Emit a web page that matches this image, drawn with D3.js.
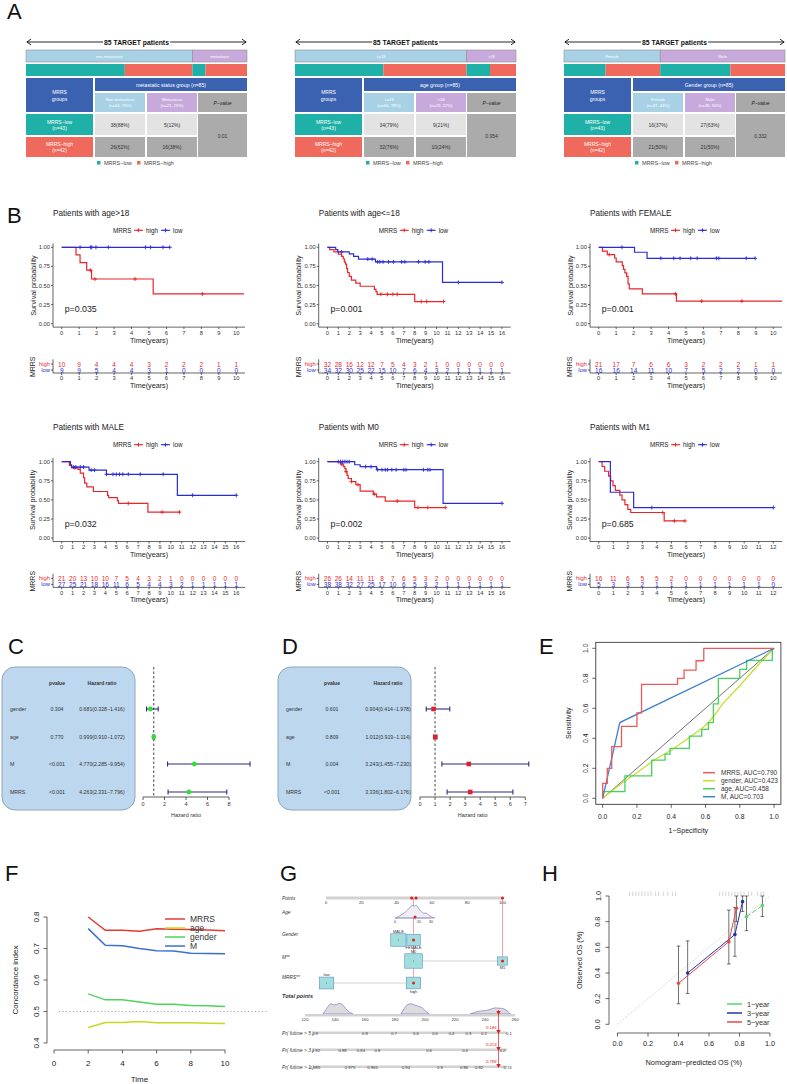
<!DOCTYPE html>
<html><head><meta charset="utf-8">
<script src="https://cdn.jsdelivr.net/npm/d3@7/dist/d3.min.js"></script>
<style>
body{margin:0;background:#fff;}
svg text{font-family:"Liberation Sans",Arial,Helvetica,sans-serif;}
</style></head><body>
<svg id="fig" width="787" height="1084"></svg>
<script>
// ================= data =================
// A: tables
var tabTitles = ["metastatic status group (n=85)", "age group (n=85)", "Gender group (n=85)"];
var tabBarLabels = [["non-metastasis","metastasis"], ["<=18",">18"], ["Female","Male"]];
var tabColHeads = [["Non-metastasis","Metastasis"], ["<=18",">18"], ["Female","Male"]];
var tabLow = [[38,5],[34,9],[16,27]];
var tabHigh = [[26,16],[32,10],[21,21]];
var tabP = ["0.01","0.954","0.332"];

// B: Kaplan-Meier panels
var kmTitles = ["Patients with age>18","Patients with age<=18","Patients with FEMALE","Patients with MALE","Patients with M0","Patients with M1"];
var kmP = ["p=0.035","p=0.001","p=0.001","p=0.032","p=0.002","p=0.685"];
var kmMax = [10,16,10,16,16,12];
// steps: [time, survival after drop]
var km1High = [[0.82,0.9],[1.05,0.8],[1.43,0.7],[1.71,0.585],[5.24,0.39]];
var km1HighC = [1.64,1.9,4.2,8.06];
var km1Low = [];
var km1LowC = [1.05,1.66,1.72,1.96,2.67,4.8,5.09,5.8,6.19];
var km2High = [[0.2,0.97],[0.6,0.94],[1.0,0.91],[1.3,0.88],[1.45,0.85],[1.55,0.81],[1.65,0.78],[1.75,0.72],[1.85,0.67],[2.0,0.62],[2.2,0.57],[2.6,0.53],[3.0,0.49],[4.3,0.45],[4.45,0.42],[4.55,0.385],[8.0,0.29]];
var km2HighC = [4.9,5.5,6.0,6.4,8.6,9.1,10.65];
var km2Low = [[0.76,0.97],[0.95,0.94],[2.0,0.915],[2.4,0.88],[2.85,0.845],[4.4,0.81],[10.55,0.54]];
var km2LowC = [1.3,3.7,4.1,4.6,4.8,5.1,5.6,6.05,6.8,7.1,8.35,8.96,9.3,12.0,16.0];
var km3High = [[0.21,0.95],[0.49,0.905],[0.91,0.86],[1.0,0.81],[1.35,0.76],[1.42,0.71],[1.5,0.665],[1.6,0.62],[1.68,0.52],[1.75,0.455],[2.5,0.39],[4.45,0.295]];
var km3HighC = [0.6,4.4,5.9,8.2];
var km3Low = [[2.05,0.935],[2.77,0.856]];
var km3LowC = [1.33,3.56,4.3,4.66,5.27,5.64,6.74,6.88,8.45,8.96];
var km4High = [[0.7,0.95],[0.9,0.92],[1.5,0.9],[1.7,0.85],[2.0,0.79],[2.1,0.72],[2.3,0.67],[2.9,0.61],[4.2,0.56],[4.3,0.53],[5.1,0.49],[5.2,0.455],[7.9,0.34]];
var km4HighC = [1.2,6.1,9.2,10.8];
var km4Low = [[0.8,0.96],[0.9,0.93],[2.5,0.89],[4.1,0.835],[10.6,0.56]];
var km4LowC = [1.1,1.3,1.7,2.0,2.7,3.0,4.1,4.7,5.0,5.3,5.6,6.1,7.2,9.3,12.0,16.0];
var km5High = [[1.2,0.97],[1.45,0.94],[1.6,0.91],[1.7,0.87],[1.8,0.82],[1.9,0.78],[2.2,0.74],[2.6,0.70],[3.0,0.615],[4.2,0.575],[4.5,0.54],[5.3,0.485],[8.0,0.40]];
var km5HighC = [1.3,1.7,2.2,2.8,4.3,6.4,8.3,9.2,10.8];
var km5Low = [[2.5,0.96],[3.0,0.935],[4.5,0.895],[10.6,0.455]];
var km5LowC = [1.0,1.2,1.4,1.6,1.8,2.0,3.5,4.0,4.6,5.0,5.3,5.5,5.9,6.3,7.0,7.2,8.8,9.2,9.4,16.0];
var km6High = [[0.23,0.9375],[0.41,0.875],[0.68,0.8125],[0.82,0.75],[0.98,0.6875],[1.14,0.625],[1.45,0.5625],[1.6,0.5],[1.8,0.4375],[2.0,0.375],[2.2,0.335],[4.5,0.225]];
var km6HighC = [4.4,5.2,5.93];
var km6Low = [[0.8,0.6],[2.4,0.4]];
var km6LowC = [3.65,12.0];
var kmHighEnd = [10.45,10.65,10.5,10.8,10.8,5.93];
var kmLowEnd = [6.19,16.0,8.96,16.0,16.0,12.0];
var risk1High = [10,9,4,4,4,3,2,2,2,1,1];
var risk1Low  = [9,9,5,4,4,3,1,0,0,0,0];
var risk2High = [32,28,16,12,12,7,5,4,3,2,1,0,0,0,0,0,0];
var risk2Low  = [34,32,30,25,22,15,10,7,6,4,3,2,1,1,1,1,1];
var risk3High = [21,17,7,6,6,3,2,2,2,1,1];
var risk3Low  = [16,16,14,11,10,7,5,2,2,0,0];
var risk4High = [21,20,13,10,10,7,5,4,3,2,1,0,0,0,0,0,0];
var risk4Low  = [27,25,21,18,16,11,6,5,4,4,3,2,1,1,1,1,1];
var risk5High = [26,26,14,11,11,8,7,6,5,3,2,0,0,0,0,0,0];
var risk5Low  = [38,38,32,27,25,17,10,6,5,3,2,1,1,1,1,1,1];
var risk6High = [16,11,6,5,5,2,0,0,0,0,0,0,0];
var risk6Low  = [5,3,3,2,1,1,1,1,1,1,1,1,0];

// C / D: Cox regression
var coxVars = ["gender","age","M","MRRS"];
var uniP = ["0.304","0.770","<0.001","<0.001"];
var uniHR = [0.681,0.999,4.770,4.263];
var uniLo = [0.328,0.910,2.285,2.331];
var uniHi = [1.416,1.072,9.954,7.796];
var multiP = ["0.601","0.809","0.004","<0.001"];
var multiHR = [0.904,1.012,3.243,3.336];
var multiLo = [0.414,0.919,1.455,1.802];
var multiHi = [1.978,1.114,7.230,6.176];

// E: ROC
var rocMRRS = [[0,0],[0,0.1],[0.027,0.1],[0.027,0.2],[0.053,0.2],[0.053,0.345],[0.11,0.345],[0.11,0.48],[0.2,0.48],[0.2,0.57],[0.227,0.57],[0.227,0.76],[0.437,0.76],[0.437,0.80],[0.475,0.80],[0.475,0.855],[0.545,0.855],[0.545,0.917],[0.59,0.917],[0.59,1],[1,1]];
var rocGender = [[0,0],[0.1,0.09],[0.2,0.17],[0.3,0.255],[0.4,0.32],[0.5,0.4],[0.6,0.485],[0.65,0.55],[0.7,0.63],[0.8,0.75],[0.9,0.88],[1,1]];
var rocAge = [[0,0],[0,0.045],[0.13,0.045],[0.13,0.15],[0.286,0.15],[0.286,0.255],[0.364,0.255],[0.364,0.295],[0.393,0.295],[0.393,0.333],[0.506,0.333],[0.506,0.415],[0.578,0.415],[0.578,0.46],[0.617,0.46],[0.617,0.505],[0.646,0.505],[0.646,0.63],[0.675,0.63],[0.675,0.80],[0.80,0.80],[0.80,0.86],[0.84,0.86],[0.84,0.92],[0.99,0.92],[0.99,0.99],[1,1]];
var rocM = [[0,0],[0.1,0.505],[1,1]];
var rocNames = ["MRRS, AUC=0.790","gender, AUC=0.423","age, AUC=0.458","M, AUC=0.703"];

// F: concordance index
var cTimes = [2,3,4,5,6,7,8,9,10];
var cMRRS = [0.800,0.758,0.758,0.755,0.763,0.761,0.760,0.759,0.756];
var cAge = [0.449,0.465,0.465,0.468,0.464,0.464,0.464,0.463,0.462];
var cGender = [0.556,0.537,0.537,0.530,0.523,0.523,0.519,0.518,0.516];
var cM = [0.763,0.710,0.709,0.700,0.693,0.692,0.685,0.684,0.683];
var cNames = ["MRRS","age","gender","M"];

// G: nomogram
var nomoLabels = ["Points","Age","Gender","M**","MRRS**","Total points","Pr( futime > 5 )","Pr( futime > 3 )","Pr( futime > 1 )"];
var pointTicks = [0,20,40,60,80,100];
var ageTicks = [0,20,30];
var ageDensAge = [0,3,6,9,12,14,16,18,20,22,24,26,28,30,33];
var ageDensVal = [0,0.1,0.25,0.45,0.7,0.95,0.8,1.0,0.6,0.45,0.3,0.4,0.2,0.1,0];
var genderLevels = ["MALE","FEMALE"], genderPts = [41,49.6], genderN = [48,37];
var mLevels = ["M0","M1"], mPts = [49.6,100], mN = [64,21];
var mrrsLevels = ["low","high"], mrrsPts = [0.3,49.6], mrrsN = [43,42];
var totalTicks = [120,140,160,180,200,220,240,260];
var totDensPts = [132,134,136,137,139,141,143,145,147,149,152, 184,186,188,190,192,194,196,198,200,203, 230,234,238,241,244,247,249,251,254,257];
var totDensVal = [0,0.4,0.8,1.0,0.8,0.85,1.0,0.9,0.5,0.2,0, 0,0.5,0.85,0.95,0.9,0.75,0.7,0.6,0.3,0, 0,0.2,0.3,0.3,0.45,0.6,0.5,0.55,0.4,0];
var pr5Lab = ["0.9","0.8","0.7","0.6","0.5","0.4","0.3","0.2","0.1"];
var pr5Pts = [126.7,160,179.3,194,206.7,217.7,229,239.3,256];
var pr3Lab = ["0.92","0.88","0.84","0.8","0.6","0.4","0.2"];
var pr3Pts = [127.3,145,157.3,168.3,202.7,226.7,251.7];
var pr1Lab = ["0.985","0.975","0.965","0.94","0.9","0.86","0.82","0.74"];
var pr1Pts = [126.7,150,165,187.3,210,226,236,255];
var obsTotal = 249;
var obsPr = ["0.145","0.213","0.788"];

// H: calibration
var cal1Pred = [0.846,0.95], cal1Obs = [0.839,0.925], cal1Lo = [0.73,0.84], cal1Hi = [1.0,1.0];
var cal3Pred = [0.46,0.77,0.82], cal3Obs = [0.40,0.70,0.956], cal3Lo = [0.24,0.53,0.88], cal3Hi = [0.65,0.91,1.0];
var cal5Pred = [0.40,0.73,0.78], cal5Obs = [0.32,0.644,0.904], cal5Lo = [0.16,0.47,0.80], cal5Hi = [0.61,0.89,1.0];
var calRug = [0.08,0.1,0.12,0.14,0.16,0.18,0.2,0.22,0.25,0.27,0.3,0.33,0.36,0.38,0.67,0.69,0.71,0.73,0.75,0.77,0.79,0.81,0.83,0.86,0.88,0.92,0.94,0.96];
var calNames = ["1\u2212year","3\u2212year","5\u2212year"];

// ================= helpers =================
var svg = d3.select("#fig");
var RED = "#e8262a", BLUE = "#2b2bd6";
var TEAL = "#1fb0a8", SALMON = "#ef6a5d", DBLUE = "#3a62b0", LBLUE = "#a9d1e6", LAV = "#c8a9dc";

function T(g, x, y, s, size, o) {
  o = o || {};
  var t = g.append("text").attr("x", x).attr("y", y).attr("font-size", size)
    .attr("dominant-baseline", "central")
    .attr("text-anchor", o.anchor || "start")
    .attr("fill", o.fill || "#222").text(s);
  if (o.weight) t.attr("font-weight", o.weight);
  if (o.style) t.attr("font-style", o.style);
  if (o.rotate) t.attr("transform", "rotate(" + o.rotate + "," + x + "," + y + ")");
  return t;
}
function L(g, x1, y1, x2, y2, c, w, dash) {
  var l = g.append("line").attr("x1", x1).attr("y1", y1).attr("x2", x2).attr("y2", y2)
    .attr("stroke", c || "#000").attr("stroke-width", w || 0.8);
  if (dash) l.attr("stroke-dasharray", dash);
  return l;
}

// panel letters
[["A",7,11],["B",7,215],["C",8,646],["D",282,646],["E",539,646],["F",5,873],["G",280,873],["H",542,873]]
  .forEach(function (p) { T(svg, p[1], p[2], p[0], 22, {fill: "#111"}); });

// ================= A =================
function drawTable(i, x0) {
  var W = 221;
  var g = svg.append("g").attr("transform", "translate(" + x0 + ",0)");
  var lo = tabLow[i], hi = tabHigh[i];
  var grp = [lo[0] + hi[0], lo[1] + hi[1]];
  var n = grp[0] + grp[1], nLo = d3.sum(lo), nHi = d3.sum(hi);
  var xb = d3.scaleLinear().domain([0, n]).range([0, W]);

  L(g, 1, 42, W - 1, 42, "#111", 0.9);
  g.append("path").attr("d", "M5,39.2L0.8,42L5,44.8").attr("fill", "none").attr("stroke", "#111").attr("stroke-width", 0.9);
  g.append("path").attr("d", "M" + (W - 5) + ",39.2L" + (W - 0.8) + ",42L" + (W - 5) + ",44.8").attr("fill", "none").attr("stroke", "#111").attr("stroke-width", 0.9);
  var tt = T(g, W / 2, 42, n + " TARGET patients", 6.8, {anchor: "middle", weight: "bold", fill: "#111"});
  var bb = tt.node().getBBox();
  g.insert("rect", "text").attr("x", bb.x - 1).attr("y", 38).attr("width", bb.width + 2).attr("height", 8).attr("fill", "#fff");

  var gx = [0, grp[0]];
  [0, 1].forEach(function (j) {
    g.append("rect").attr("x", xb(gx[j])).attr("y", 50).attr("width", xb(grp[j])).attr("height", 12)
      .attr("fill", j ? LAV : LBLUE).attr("stroke", "#8f8f8f").attr("stroke-width", 0.6);
    T(g, xb(gx[j] + grp[j] / 2), 56, tabBarLabels[i][j], 4, {anchor: "middle", fill: "#fff"});
  });
  var segs = [[lo[0], TEAL], [hi[0], SALMON], [lo[1], TEAL], [hi[1], SALMON]];
  var acc = 0;
  segs.forEach(function (s) {
    g.append("rect").attr("x", xb(acc)).attr("y", 64).attr("width", xb(s[0])).attr("height", 12).attr("fill", s[1]);
    acc += s[0];
  });

  function cell(x1, x2, y1, y2, fill) {
    g.append("rect").attr("x", x1).attr("y", y1).attr("width", x2 - x1).attr("height", y2 - y1).attr("fill", fill);
  }
  var cx = [[69, 119], [121, 171], [172, 221]];
  cell(0, 67, 78, 112, DBLUE);
  T(g, 33.5, 92, "MRRS", 5, {anchor: "middle", fill: "#fff"});
  T(g, 33.5, 98.5, "groups", 5, {anchor: "middle", fill: "#fff"});
  cell(69, 221, 78, 91, DBLUE);
  T(g, 145, 84.5, tabTitles[i], 5.2, {anchor: "middle", fill: "#fff"});
  [0, 1].forEach(function (j) {
    cell(cx[j][0], cx[j][1], 93, 112, j ? LAV : LBLUE);
    var mid = (cx[j][0] + cx[j][1]) / 2;
    T(g, mid, 99.5, tabColHeads[i][j], 4.2, {anchor: "middle", fill: "#fff"});
    T(g, mid, 105.5, "(n=" + grp[j] + ", " + Math.round(grp[j] / n * 100) + "%)", 4.2, {anchor: "middle", fill: "#fff"});
  });
  cell(172, 221, 93, 112, "#a9a9a9");
  T(g, 196.5, 102.5, "P\u2212value", 5, {anchor: "middle", style: "italic", fill: "#222"});

  cell(0, 67, 114, 135, TEAL);
  T(g, 33.5, 121.5, "MRRS\u2212low", 5, {anchor: "middle", fill: "#fff"});
  T(g, 33.5, 128, "(n=" + nLo + ")", 5, {anchor: "middle", fill: "#fff"});
  cell(0, 67, 137, 157, SALMON);
  T(g, 33.5, 143.5, "MRRS\u2212high", 5, {anchor: "middle", fill: "#fff"});
  T(g, 33.5, 150, "(n=" + nHi + ")", 5, {anchor: "middle", fill: "#fff"});
  [0, 1].forEach(function (j) {
    var mid = (cx[j][0] + cx[j][1]) / 2;
    cell(cx[j][0], cx[j][1], 114, 135, "#e3e3e3");
    T(g, mid, 124.5, lo[j] + "(" + Math.round(lo[j] / nLo * 100) + "%)", 5, {anchor: "middle", fill: "#333"});
    cell(cx[j][0], cx[j][1], 137, 157, "#ababab");
    T(g, mid, 147, hi[j] + "(" + Math.round(hi[j] / nHi * 100) + "%)", 5, {anchor: "middle", fill: "#333"});
  });
  cell(172, 221, 114, 157, "#ababab");
  T(g, 196.5, 135.5, tabP[i], 5, {anchor: "middle", fill: "#333"});

  g.append("rect").attr("x", 71).attr("y", 161).attr("width", 3.5).attr("height", 3.5).attr("fill", TEAL);
  T(g, 78, 163, "MRRS\u2212low", 5.5, {fill: "#444"});
  g.append("rect").attr("x", 111).attr("y", 161).attr("width", 3.5).attr("height", 3.5).attr("fill", SALMON);
  T(g, 118, 163, "MRRS\u2212high", 5.5, {fill: "#444"});
}
drawTable(0, 26);
drawTable(1, 295);
drawTable(2, 564);

// ================= B =================
var kmSteps = [[km1High, km1Low], [km2High, km2Low], [km3High, km3Low], [km4High, km4Low], [km5High, km5Low], [km6High, km6Low]];
var kmCens = [[km1HighC, km1LowC], [km2HighC, km2LowC], [km3HighC, km3LowC], [km4HighC, km4LowC], [km5HighC, km5LowC], [km6HighC, km6LowC]];
var kmRisk = [[risk1High, risk1Low], [risk2High, risk2Low], [risk3High, risk3Low], [risk4High, risk4Low], [risk5High, risk5Low], [risk6High, risk6Low]];
var kmOX = [53, 318.7, 590], kmOY = [247.3, 461.7];

function survAt(steps, t) {
  var s = 1;
  steps.forEach(function (d) { if (d[0] <= t) s = d[1]; });
  return s;
}
function plusMark(g, x, y, c) {
  L(g, x - 2, y, x + 2, y, c, 0.9);
  L(g, x, y - 2, x, y + 2, c, 0.9);
}

function drawKM(k) {
  var ox = kmOX[k % 3], oy = kmOY[Math.floor(k / 3)], W = 192, mx = kmMax[k];
  var g = svg.append("g");
  var x = d3.scaleLinear().domain([-0.05 * mx, 1.05 * mx]).range([ox, ox + W]);
  var y = d3.scaleLinear().domain([0, 1]).range([oy + 76.4, oy]);
  var ticks = d3.range(0, mx + 1);
  var yb = y(-0.045), yt = y(1.05);
  var cols = [RED, BLUE];

  T(g, ox, oy - 34, kmTitles[k], 8.2, {fill: "#222"});
  // legend
  T(g, ox + 60, oy - 17, "MRRS", 6.3, {fill: "#222"});
  [0, 1].forEach(function (j) {
    var lx = ox + 81 + j * 27;
    L(g, lx, oy - 17, lx + 9, oy - 17, cols[j], 1.1);
    plusMark(g, lx + 4.5, oy - 17, cols[j]);
    T(g, lx + 12, oy - 17, j ? "low" : "high", 6.3, {fill: "#222"});
  });

  // axes
  L(g, ox, yt, ox, yb, "#222", 0.7);
  L(g, ox, yb, ox + W, yb, "#222", 0.7);
  [0, 0.25, 0.5, 0.75, 1].forEach(function (v) {
    L(g, ox - 2, y(v), ox, y(v), "#222", 0.7);
    T(g, ox - 3, y(v), v.toFixed(2), 5.8, {anchor: "end", fill: "#333"});
  });
  ticks.forEach(function (t) {
    L(g, x(t), yb, x(t), yb + 2, "#222", 0.7);
    T(g, x(t), yb + 5.5, String(t), 5.8, {anchor: "middle", fill: "#333"});
  });
  T(g, (ox + ox + W) / 2, oy + 92.7, "Time(years)", 7.2, {anchor: "middle", fill: "#222"});
  T(g, ox - 20, y(0.5), "Survival probability", 7.2, {anchor: "middle", rotate: -90, fill: "#222"});

  // curves
  var line = d3.line().x(function (d) { return x(d[0]); }).y(function (d) { return y(d[1]); }).curve(d3.curveStepAfter);
  [0, 1].forEach(function (j) {
    var st = kmSteps[k][j];
    var end = j ? kmLowEnd[k] : kmHighEnd[k];
    var pts = [[0, 1]].concat(st).concat([[end, st.length ? st[st.length - 1][1] : 1]]);
    g.append("path").attr("d", line(pts)).attr("fill", "none").attr("stroke", cols[j]).attr("stroke-width", 1.2);
    kmCens[k][j].forEach(function (t) { plusMark(g, x(t), y(survAt(st, t)), cols[j]); });
  });
  T(g, x(0) + 3, y(0.19), kmP[k], 8.8, {fill: "#222"});

  // risk table
  var rh = oy + 116.7, rl = oy + 122.7, ra = oy + 125.7;
  L(g, ox, oy + 112, ox, ra, "#222", 0.7);
  L(g, ox, ra, ox + W, ra, "#222", 0.7);
  L(g, ox - 2, rh, ox, rh, "#222", 0.7);
  L(g, ox - 2, rl, ox, rl, "#222", 0.7);
  T(g, ox - 3, rh, "high", 5.8, {anchor: "end", fill: RED});
  T(g, ox - 3, rl, "low", 5.8, {anchor: "end", fill: BLUE});
  T(g, ox - 20, oy + 119.5, "MRRS", 7, {anchor: "middle", rotate: -90, fill: "#222"});
  ticks.forEach(function (t, i) {
    L(g, x(t), ra, x(t), ra + 2, "#222", 0.7);
    T(g, x(t), ra + 5.3, String(t), 5.8, {anchor: "middle", fill: "#333"});
    T(g, x(t), rh, String(kmRisk[k][0][i]), 6.5, {anchor: "middle", fill: RED});
    T(g, x(t), rl, String(kmRisk[k][1][i]), 6.5, {anchor: "middle", fill: BLUE});
  });
  T(g, (ox + ox + W) / 2, oy + 138, "Time(years)", 7.2, {anchor: "middle", fill: "#222"});
}
for (var k = 0; k < 6; k++) drawKM(k);

// ================= C / D =================
var rowY = [709, 737, 764, 792];
function drawCox(bx, pCol, hrCol, pv, hr, lo, hi, axX0, axX1, axMax, square) {
  var g = svg.append("g");
  g.append("rect").attr("x", bx).attr("y", 667).attr("width", 133).attr("height", 143).attr("rx", 13)
    .attr("fill", "#bdd7ee").attr("stroke", "#8ea6bd").attr("stroke-width", 1);
  T(g, pCol, 683, "pvalue", 5, {anchor: "middle", weight: "bold", fill: "#333"});
  T(g, hrCol, 683, "Hazard ratio", 5, {anchor: "middle", weight: "bold", fill: "#333"});
  coxVars.forEach(function (v, i) {
    T(g, bx + 8, rowY[i], v, 5.2, {fill: "#333"});
    T(g, pCol, rowY[i], pv[i], 5.2, {anchor: "middle", fill: "#333"});
    T(g, hrCol, rowY[i], hr[i].toFixed(3) + "(" + lo[i].toFixed(3) + "\u2212" + hi[i].toFixed(3) + ")", 5.2, {anchor: "middle", fill: "#333"});
  });
  var x = d3.scaleLinear().domain([0, axMax]).range([axX0, axX1]);
  L(g, x(1), 667, x(1), 797, "#333", 0.9, "2.5,2");
  L(g, x(0), 797, x(axMax), 797, "#333", 0.8);
  var step = axMax > 7 ? 2 : 1;
  d3.range(0, axMax + 0.01, step).forEach(function (t) {
    L(g, x(t), 797, x(t), 800, "#333", 0.8);
    T(g, x(t), 804, String(t), 5.5, {anchor: "middle", fill: "#333"});
  });
  T(g, x(axMax / 2), 815, "Hazard ratio", 5.5, {anchor: "middle", fill: "#333"});
  coxVars.forEach(function (v, i) {
    var yy = rowY[i];
    L(g, x(lo[i]), yy, x(hi[i]), yy, "#2a2a80", 1.1);
    L(g, x(lo[i]), yy - 2.5, x(lo[i]), yy + 2.5, "#2a2a80", 1.1);
    L(g, x(hi[i]), yy - 2.5, x(hi[i]), yy + 2.5, "#2a2a80", 1.1);
    if (square) g.append("rect").attr("x", x(hr[i]) - 2.3).attr("y", yy - 2.3).attr("width", 4.6).attr("height", 4.6).attr("fill", "#e0202a");
    else g.append("circle").attr("cx", x(hr[i])).attr("cy", yy).attr("r", 2.4).attr("fill", "#33dd33");
  });
}
drawCox(2, 57, 102, uniP, uniHR, uniLo, uniHi, 143, 229, 8, false);
drawCox(278, 332, 388, multiP, multiHR, multiLo, multiHi, 420, 525.3, 7, true);

// ================= E =================
(function () {
  var g = svg.append("g");
  var x = d3.scaleLinear().domain([-0.04, 1.04]).range([595.8, 780.9]);
  var y = d3.scaleLinear().domain([-0.04, 1.04]).range([804.3, 642.3]);
  g.append("rect").attr("x", x(-0.04)).attr("y", y(1.04)).attr("width", x(1.04) - x(-0.04)).attr("height", y(-0.04) - y(1.04))
    .attr("fill", "none").attr("stroke", "#222").attr("stroke-width", 0.8);
  d3.range(0, 1.01, 0.2).forEach(function (v) {
    L(g, x(v), y(-0.04), x(v), y(-0.04) + 3.5, "#222", 0.7);
    T(g, x(v), 816, v.toFixed(1), 6.8, {anchor: "middle", fill: "#222"});
    L(g, x(-0.04) - 3.5, y(v), x(-0.04), y(v), "#222", 0.7);
    T(g, 586, y(v), v.toFixed(1), 6.8, {anchor: "middle", rotate: -90, fill: "#222"});
  });
  T(g, x(0.5), 830.7, "1\u2212Specificity", 7, {anchor: "middle", fill: "#222"});
  T(g, 569, y(0.5), "Sensitivity", 7, {anchor: "middle", rotate: -90, fill: "#222"});
  var line = d3.line().x(function (d) { return x(d[0]); }).y(function (d) { return y(d[1]); });
  L(g, x(0), y(0), x(1), y(1), "#333", 0.7);
  var curves = [rocMRRS, rocGender, rocAge, rocM];
  var cols = ["#ee5a5a", "#c9dc2e", "#45d25c", "#3f7fcf"];
  [1, 2, 3, 0].forEach(function (i) {
    g.append("path").attr("d", line(curves[i])).attr("fill", "none").attr("stroke", cols[i]).attr("stroke-width", 1.3);
  });
  rocNames.forEach(function (s, i) {
    var yy = 772.7 + i * 8;
    L(g, 703, yy, 715, yy, cols[i], 1.5);
    T(g, 721, yy, s, 6.5, {fill: "#333"});
  });
})();

// ================= F =================
(function () {
  var g = svg.append("g");
  var x = d3.scaleLinear().domain([0, 10]).range([54, 225]);
  var y = d3.scaleLinear().domain([0.4, 0.8]).range([1043, 917]);
  L(g, 47, y(0.4), 47, y(0.8), "#222", 0.7);
  L(g, x(0), 1050, x(10), 1050, "#222", 0.7);
  [0.4, 0.5, 0.6, 0.7, 0.8].forEach(function (v) {
    L(g, 43.5, y(v), 47, y(v), "#222", 0.7);
    T(g, 36, y(v), v.toFixed(1), 8, {anchor: "middle", rotate: -90, fill: "#222"});
  });
  d3.range(0, 11, 2).forEach(function (t) {
    L(g, x(t), 1050, x(t), 1053.5, "#222", 0.7);
    T(g, x(t), 1063, String(t), 8, {anchor: "middle", fill: "#222"});
  });
  T(g, x(5), 1079, "Time", 8, {anchor: "middle", fill: "#222"});
  T(g, 15, y(0.6), "Concordance index", 8, {anchor: "middle", rotate: -90, fill: "#222"});
  L(g, 59, y(0.5), 267, y(0.5), "#999", 1, "1,2.5");
  var series = [cMRRS, cAge, cGender, cM];
  var cols = ["#e23b33", "#c8d820", "#4dd45a", "#3b6fd0"];
  series.forEach(function (s, i) {
    var line = d3.line().x(function (d, j) { return x(cTimes[j]); }).y(function (d) { return y(d); });
    g.append("path").attr("d", line(s)).attr("fill", "none").attr("stroke", cols[i]).attr("stroke-width", 1.5);
  });
  cNames.forEach(function (s, i) {
    var yy = 919 + i * 9;
    L(g, 165, yy, 185, yy, cols[i], 1.5);
    T(g, 190, yy, s, 8.5, {fill: "#333"});
  });
})();

// ================= G =================
(function () {
  var g = svg.append("g");
  var px = d3.scaleLinear().domain([0, 100]).range([326, 502.5]);
  var tx = d3.scaleLinear().domain([120, 260]).range([305, 515]);
  var lab = "#333";
  var ly = [898, 912, 934, 957, 977, 996, 1033, 1050, 1067];
  nomoLabels.forEach(function (s, i) {
    T(g, 282, ly[i], s, i === 5 ? 5.5 : 4.8, {style: "italic", weight: i === 5 ? "bold" : null, fill: lab});
  });
  // points axis
  g.append("rect").attr("x", px(0)).attr("y", 896.5).attr("width", px(100) - px(0)).attr("height", 3).attr("fill", "#d2d2d2");
  pointTicks.forEach(function (v) { T(g, px(v), 902.5, String(v), 4.2, {anchor: "middle", fill: lab}); });

  // red guide lines
  L(g, px(49.6), 898, px(49.6), 983, "#e8404a", 0.5);
  L(g, px(100), 898, px(100), 961, "#e8404a", 0.5);
  [48.5, 51, 100].forEach(function (v) { g.append("circle").attr("cx", px(v)).attr("cy", 898).attr("r", 1.6).attr("fill", "#e02020"); });

  // age density
  var ax = d3.scaleLinear().domain([0, 20]).range([395, 419]);
  var area = d3.area().x(function (d, i) { return ax(ageDensAge[i]); }).y0(918).y1(function (d) { return 918 - d * 14; }).curve(d3.curveBasis);
  g.append("path").attr("d", area(ageDensVal)).attr("fill", "#eeeef6").attr("stroke", "#6f63c8").attr("stroke-width", 0.6);
  L(g, ax(0), 918, ax(30), 918, "#888", 0.5);
  ageTicks.forEach(function (v) { T(g, ax(v), 921.5, String(v), 3.6, {anchor: "middle", fill: lab}); });
  g.append("circle").attr("cx", px(49.6) + 1.5).attr("cy", 917).attr("r", 1.5).attr("fill", "#e02020");

  function boxes(levels, pts, ns, yc, above, redIdx) {
    L(g, px(pts[0]), yc, px(pts[1]), yc, "#c8c8c8", 0.8);
    levels.forEach(function (s, i) {
      var w = 2.2 * Math.sqrt(ns[i]), h = 0.82 * w;
      g.append("rect").attr("x", px(pts[i]) - w / 2).attr("y", yc - h / 2).attr("width", w).attr("height", h)
        .attr("fill", "#a3dede").attr("stroke", "#5b8fc9").attr("stroke-width", 0.6);
      g.append("circle").attr("cx", px(pts[i])).attr("cy", yc).attr("r", i === redIdx ? 1.5 : 0.5).attr("fill", i === redIdx ? "#e02020" : "#2c7a5a");
      T(g, px(pts[i]), above[i] ? yc - h / 2 - 2.5 : yc + h / 2 + 2.5, s, 4, {anchor: "middle", fill: lab});
    });
  }
  boxes(genderLevels, genderPts, genderN, 940, [true, false], 1);
  boxes(mLevels, mPts, mN, 961, [true, false], 1);
  boxes(mrrsLevels, mrrsPts, mrrsN, 983, [true, false], 1);

  // total points
  [[0, 11], [11, 21], [21, 31]].forEach(function (r) {
    var sub = totDensVal.slice(r[0], r[1]);
    var a = d3.area().x(function (d, i) { return tx(totDensPts[r[0] + i]); }).y0(1014).y1(function (d) { return 1014 - d * 11; }).curve(d3.curveBasis);
    g.append("path").attr("d", a(sub)).attr("fill", "#dcdcdc").attr("stroke", "#6f63c8").attr("stroke-width", 0.6);
  });
  g.append("rect").attr("x", tx(120)).attr("y", 1014).attr("width", tx(260) - tx(120)).attr("height", 2.5).attr("fill", "#d2d2d2");
  totalTicks.forEach(function (v) { T(g, tx(v), 1019.5, String(v), 4.2, {anchor: "middle", fill: lab}); });

  var prY = [1033, 1050, 1067];
  var prLabs = [pr5Lab, pr3Lab, pr1Lab], prPts = [pr5Pts, pr3Pts, pr1Pts];
  prY.forEach(function (yy, r) {
    g.append("rect").attr("x", 314).attr("y", yy - 1.5).attr("width", 193).attr("height", 2.5).attr("fill", "#d2d2d2");
    prLabs[r].forEach(function (s, i) { T(g, tx(prPts[r][i]), yy + 0.5, s, 4.2, {anchor: "middle", fill: lab}); });
  });
  var ox = tx(obsTotal);
  L(g, ox, 1010, ox, 1067, "#e02020", 0.7);
  [1014].concat(prY).forEach(function (yy, i) {
    g.append("path").attr("d", "M" + (ox - 2.2) + "," + (yy - 3) + "L" + (ox + 2.2) + "," + (yy - 3) + "L" + ox + "," + (yy + 1) + "Z").attr("fill", "#e02020");
    if (i > 0) T(g, ox - 2, yy - 5.5, obsPr[i - 1], 4.2, {anchor: "end", style: "italic", fill: "#e02020"});
  });
})();

// ================= H =================
(function () {
  var g = svg.append("g");
  var x = d3.scaleLinear().domain([0, 1]).range([617.5, 770]);
  var y = d3.scaleLinear().domain([0, 1]).range([1024.3, 896]);
  L(g, 609, y(0), 609, y(1), "#222", 0.7);
  L(g, x(0), 1033, x(1), 1033, "#222", 0.7);
  d3.range(0, 1.01, 0.2).forEach(function (v) {
    L(g, 605.5, y(v), 609, y(v), "#222", 0.7);
    T(g, 598, y(v), v.toFixed(1), 7.3, {anchor: "middle", rotate: -90, fill: "#222"});
    L(g, x(v), 1033, x(v), 1036.5, "#222", 0.7);
    T(g, x(v), 1043.5, v.toFixed(1), 7.3, {anchor: "middle", fill: "#222"});
  });
  T(g, x(0.5), 1062, "Nomogram\u2212predicted OS (%)", 7.3, {anchor: "middle", fill: "#222"});
  T(g, 580, y(0.5), "Observed OS (%)", 7.3, {anchor: "middle", rotate: -90, fill: "#222"});
  L(g, x(0), y(0), x(1), y(1), "#cfcfcf", 0.8, "2,1.5");
  calRug.forEach(function (v) { L(g, x(v), 891.5, x(v), 896, "#aaa", 0.5); });
  var sets = [[cal1Pred, cal1Obs, cal1Lo, cal1Hi, "#5dd36a", "5,2"], [cal3Pred, cal3Obs, cal3Lo, cal3Hi, "#2233aa", null], [cal5Pred, cal5Obs, cal5Lo, cal5Hi, "#e8484f", null]];
  var line = d3.line().x(function (d) { return x(d[0]); }).y(function (d) { return y(d[1]); });
  sets.forEach(function (s) {
    s[0].forEach(function (p, i) {
      L(g, x(p), y(s[2][i]), x(p), y(s[3][i]), "#333", 0.7);
      L(g, x(p) - 1.8, y(s[2][i]), x(p) + 1.8, y(s[2][i]), "#333", 0.7);
      L(g, x(p) - 1.8, y(s[3][i]), x(p) + 1.8, y(s[3][i]), "#333", 0.7);
    });
  });
  sets.forEach(function (s) {
    var pts = s[0].map(function (p, i) { return [p, s[1][i]]; });
    var pth = g.append("path").attr("d", line(pts)).attr("fill", "none").attr("stroke", s[4]).attr("stroke-width", 1);
    if (s[5]) pth.attr("stroke-dasharray", s[5]);
    pts.forEach(function (p) { g.append("circle").attr("cx", x(p[0])).attr("cy", y(p[1])).attr("r", 1.8).attr("fill", s[4]); });
  });
  calNames.forEach(function (s, i) {
    var yy = 1004 + i * 9;
    L(g, 727, yy, 742, yy, sets[i][4], 1.5);
    T(g, 747, yy, s, 7.3, {fill: "#333"});
  });
})();
</script></body></html>
